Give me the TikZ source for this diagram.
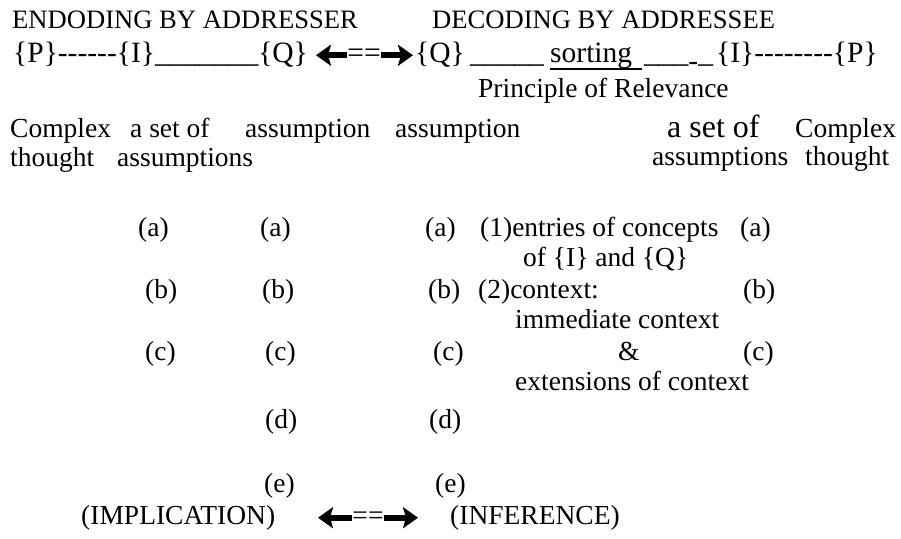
\documentclass[tikz,border=0pt]{standalone}
\usepackage{fontspec}
\setmainfont{Liberation Serif}[Ligatures=TeXOff]
\usetikzlibrary{arrows.meta}

\begin{document}
\begin{tikzpicture}[x=1pt,y=-1pt,
	txt/.style={anchor=base west,inner sep=0pt,font=\fontsize{27.5}{33}\selectfont},
	headtxt/.style={txt,font=\fontsize{26.6}{32}\selectfont},
	codetxt/.style={txt,font=\fontsize{29.5}{35}\selectfont},
	heavy/.style={line width=6pt,-{Stealth[length=15pt,width=21pt,inset=3pt]}}]
	\useasboundingbox (0,0) rectangle (901,538);
	
	\node [headtxt] (enc) at (12,28) {ENDODING BY ADDRESSER};
	\node [headtxt] (dec) at (432,28) {DECODING BY ADDRESSEE};
	
	\node [codetxt] (chainL) at (13,62) {\{P\}------\{I\}\_\_\_\_\_\_\_\{Q\}};
	\node [codetxt,anchor=base] (eqtop) at (364,62) {==};
	\coordinate (tipAL) at (316,57);
	\coordinate (tipAR) at (413,57);
	\draw [heavy] (eqtop.west) -- (eqtop.west -| tipAL);
	\draw [heavy] (eqtop.east) -- (eqtop.east -| tipAR);
	\node [codetxt] (qR) at (415,62) {\{Q\}};
	\node [codetxt] (lineA) at (470,62) {\_\_\_\_\_};
	\node [codetxt] (sort) at (550,62) {sorting};
	\draw [line width=1.4pt] ([yshift=-7pt]sort.base west) -- ([yshift=-7pt,xshift=10pt]sort.base east);
	\node [codetxt] (lineB) at (644,62) {\_\_\_\raisebox{-0.3em}{-}\_};
	\node [codetxt] (chainR) at (716,62) {\{I\}--------\{P\}};
	\node [txt] (rel) at (478,97) {Principle of Relevance};
	
	\node [txt] (cxL) at (10,137) {Complex};
	\node [txt] (setL) at (130,137) {a set of};
	\node [txt] (asmA) at (245,137) {assumption};
	\node [txt] (asmB) at (395,137) {assumption};
	\node [txt,font=\fontsize{32}{38}\selectfont] (setR) at (667,137) {a set of};
	\node [txt] (cxR) at (795,137) {Complex};
	\node [txt] (thL) at (10,166) {thought};
	\node [txt] (asmsL) at (117,166) {assumptions};
	\node [txt] (asmsR) at (652,165) {assumptions};
	\node [txt] (thR) at (805,165) {thought};
	
	\node [txt] (a1) at (138,236) {(a)};
	\node [txt] (a2) at (260,236) {(a)};
	\node [txt] (a3) at (425,236) {(a)};
	\node [txt] (entries) at (480,236) {(1)entries of concepts};
	\node [txt] (a4) at (740,236) {(a)};
	\node [txt] (ofIQ) at (523,266) {of \{I\} and \{Q\}};
	
	\node [txt] (b1) at (145,298) {(b)};
	\node [txt] (b2) at (262,298) {(b)};
	\node [txt] (b3) at (428,298) {(b)};
	\node [txt] (context) at (478,298) {(2)context:};
	\node [txt] (b4) at (743,298) {(b)};
	\node [txt] (immed) at (515,328) {immediate context};
	
	\node [txt] (c1) at (145,360) {(c)};
	\node [txt] (c2) at (265,360) {(c)};
	\node [txt] (c3) at (433,360) {(c)};
	\node [txt] (amp) at (618,360) {\&};
	\node [txt] (c4) at (743,360) {(c)};
	\node [txt] (ext) at (515,390) {extensions of context};
	
	\node [txt] (d1) at (265,428) {(d)};
	\node [txt] (d2) at (429,428) {(d)};
	
	\node [txt] (e1) at (264,492) {(e)};
	\node [txt] (e2) at (435,492) {(e)};
	
	\node [txt] (impl) at (81,524) {(IMPLICATION)};
	\node [txt,anchor=base] (eqbot) at (368,524) {==};
	\coordinate (tipBL) at (318,519);
	\coordinate (tipBR) at (418,519);
	\draw [heavy] (eqbot.west) -- (eqbot.west -| tipBL);
	\draw [heavy] (eqbot.east) -- (eqbot.east -| tipBR);
	\node [txt] (infer) at (450,524) {(INFERENCE)};
\end{tikzpicture}
\end{document}
